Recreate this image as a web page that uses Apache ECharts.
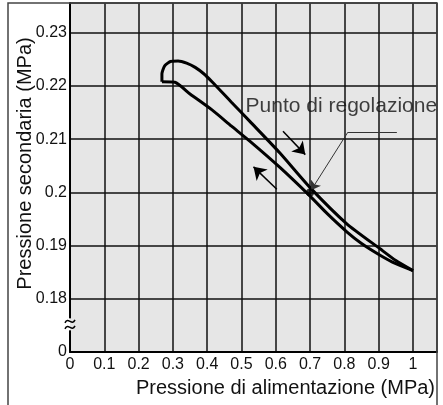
<!DOCTYPE html>
<html>
<head>
<meta charset="utf-8">
<script src="https://cdn.jsdelivr.net/npm/echarts@6/dist/echarts.min.js"></script>
<style>
  html, body { margin: 0; padding: 0; background: #fff; }
  #main { width: 443px; height: 405px; }
</style>
</head>
<body>
<div id="main"></div>
<script>
// Data (MPa)
// rising supply pressure: starts at the hook top-left, goes down to 1.0
const risingX = [0.268, 0.268, 0.276, 0.293, 0.315, 0.34, 0.365, 0.39, 0.414, 0.47, 0.525, 0.612, 0.70, 0.807, 0.904, 0.95, 1.0];
const risingY = [0.2208, 0.2223, 0.2238, 0.2246, 0.2247, 0.2243, 0.2235, 0.2223, 0.2208, 0.2170, 0.2133, 0.2074, 0.2009, 0.1941, 0.1894, 0.1872, 0.1853];
// falling supply pressure: from 1.0 back to the left end
const fallingX = [1.0, 0.95, 0.904, 0.85, 0.807, 0.75, 0.70, 0.612, 0.525, 0.47, 0.414, 0.35, 0.306, 0.268];
const fallingY = [0.1853, 0.1866, 0.1882, 0.1904, 0.1926, 0.1960, 0.1993, 0.2047, 0.2096, 0.2125, 0.2155, 0.2185, 0.2207, 0.2208];

// set point
const setPoint = [0.70, 0.200];
const setPointLabel = 'Punto di regolazione';
const labelAnchor = [0.512, 0.2162];
const leaderLine = [[0.953, 0.2113], [0.810, 0.2113]];
const leaderArrow = [[0.810, 0.2113], [0.703, 0.2004]];

// direction arrows
const arrowUp = [[0.621, 0.2115], [0.686, 0.2071]];
const arrowDown = [[0.603, 0.2006], [0.535, 0.2048]];

// axis
const xTicks = [0, 0.1, 0.2, 0.3, 0.4, 0.5, 0.6, 0.7, 0.8, 0.9, 1];
const yTicks = [0.18, 0.19, 0.2, 0.21, 0.22, 0.23];
const yBreakBase = 0.17;   // position drawn as "0" below the break
const yBreakMark = 0.1752;
const xName = 'Pressione di alimentazione (MPa)';
const yName = 'Pressione secondaria (MPa)';

const FONT = 'Liberation Sans, Arial, Helvetica, sans-serif';

function pairs(xs, ys) {
    return xs.map((x, i) => [x, ys[i]]);
}

const chart = echarts.init(document.getElementById('main'), null, { renderer: 'canvas' });

const option = {
    animation: false,
    backgroundColor: '#ffffff',
    grid: {
        left: 70, top: 3, right: 6, bottom: 53,
        show: true, backgroundColor: '#e6e6e6', borderWidth: 0
    },
    xAxis: {
        type: 'value',
        min: 0, max: 1.07, interval: 0.1,
        name: xName,
        nameLocation: 'middle',
        nameGap: 26,
        nameMoveOverlap: false,
        nameTextStyle: { fontFamily: FONT, fontSize: 20, color: '#111', padding: [0, 0, 0, 64] },
        axisLine: { show: true, onZero: false, lineStyle: { color: '#000', width: 2 } },
        axisTick: { show: false },
        axisLabel: {
            margin: 5, fontFamily: FONT, fontSize: 16, color: '#111',
            formatter: v => {
                const hit = xTicks.find(t => Math.abs(t - v) < 1e-6);
                return hit === undefined ? '' : String(hit);
            }
        },
        splitLine: { show: true, lineStyle: { color: '#111', width: 1.5 } }
    },
    yAxis: {
        type: 'value',
        min: yBreakBase, max: 0.2356, interval: 0.01,
        name: yName,
        nameLocation: 'middle',
        nameGap: 35,
        nameMoveOverlap: false,
        nameRotate: 90,
        nameTextStyle: { fontFamily: FONT, fontSize: 20, color: '#111', padding: [0, 0, 0, 28] },
        axisLine: { show: true, lineStyle: { color: '#000', width: 2 } },
        axisTick: { show: false },
        axisLabel: {
            margin: 3, fontFamily: FONT, fontSize: 16, color: '#111',
            formatter: v => {
                if (Math.abs(v - yBreakBase) < 1e-6) return '0';
                const hit = yTicks.find(t => Math.abs(t - v) < 1e-6);
                return hit === undefined ? '' : String(hit);
            }
        },
        splitLine: { show: true, lineStyle: { color: '#111', width: 1.5 } }
    },
    series: [
        {
            name: 'rising',
            type: 'line',
            data: pairs(risingX, risingY),
            showSymbol: false,
            smooth: 0.2,
            lineStyle: { color: '#000', width: 3 },
            z: 5
        },
        {
            name: 'falling',
            type: 'line',
            data: pairs(fallingX, fallingY),
            showSymbol: false,
            smooth: 0.2,
            lineStyle: { color: '#000', width: 3 },
            z: 5
        },
        {
            name: 'arrows',
            type: 'lines',
            coordinateSystem: 'cartesian2d',
            symbol: ['none', 'arrow'],
            symbolSize: [8, 12],
            lineStyle: { color: '#000', width: 1.5, opacity: 1 },
            data: [
                { coords: arrowUp },
                { coords: arrowDown }
            ],
            z: 6
        },
        {
            name: 'leader',
            type: 'lines',
            coordinateSystem: 'cartesian2d',
            symbol: ['none', 'none'],
            lineStyle: { color: '#333', width: 1, opacity: 1 },
            data: [
                { coords: leaderLine },
                { coords: leaderArrow, symbol: ['none', 'arrow'], symbolSize: [5, 9] }
            ],
            z: 6
        },
        {
            name: 'setpoint',
            type: 'scatter',
            data: [setPoint],
            symbolSize: 8,
            itemStyle: { color: '#000' },
            z: 7
        },
        {
            name: 'label',
            type: 'scatter',
            data: [labelAnchor],
            symbolSize: 0,
            label: {
                show: true, position: 'right', distance: 0,
                formatter: setPointLabel,
                fontFamily: FONT, fontSize: 21, color: '#111'
            },
            z: 8
        }
    ]
};

chart.setOption(option);

// axis break squiggle and outer frame
const bp = chart.convertToPixel({ xAxisIndex: 0, yAxisIndex: 0 }, [0, yBreakMark]);
const bx = bp[0], by = bp[1];
function tilde(y0) {
    return {
        type: 'bezierCurve',
        shape: { x1: bx - 5, y1: y0 + 1.5, cpx1: bx - 2, cpy1: y0 - 5, cpx2: bx + 2, cpy2: y0 + 5, x2: bx + 5, y2: y0 - 1.5 },
        style: { stroke: '#000', lineWidth: 1.5, fill: null },
        z: 101
    };
}
chart.setOption({
    graphic: [
        { type: 'rect', shape: { x: bx - 4, y: by - 6, width: 4, height: 12 }, style: { fill: '#fff' }, z: 100 },
        { type: 'rect', shape: { x: bx, y: by - 6, width: 4, height: 12 }, style: { fill: '#e6e6e6' }, z: 100 },
        tilde(by - 3),
        tilde(by + 3),
        { type: 'rect', shape: { x: 8, y: 3, width: 429, height: 420 }, style: { fill: null, stroke: '#444', lineWidth: 1.5 }, z: 50, silent: true }
    ]
});

window.addEventListener('resize', () => chart.resize());
</script>
</body>
</html>
